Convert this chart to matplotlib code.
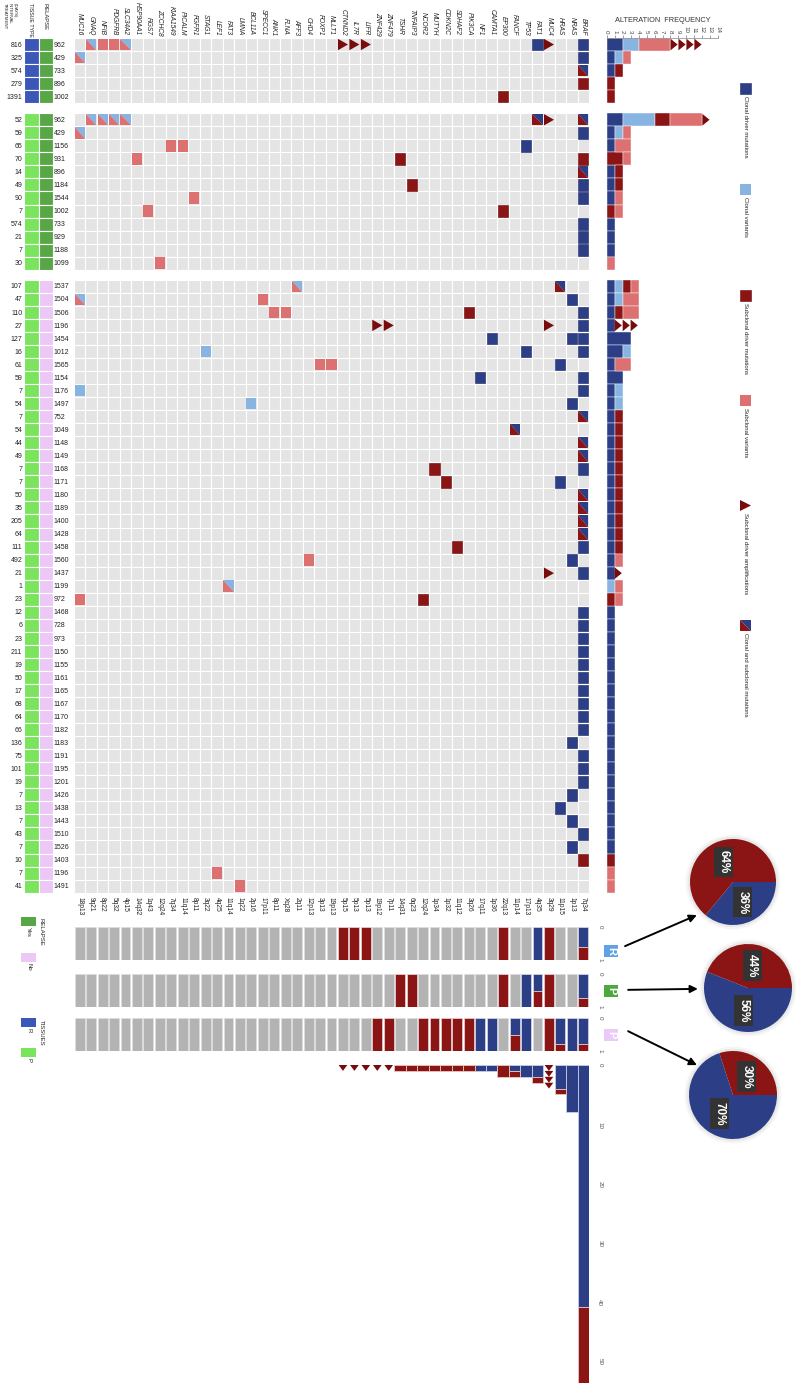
import numpy as np
import matplotlib
matplotlib.use('Agg')
import matplotlib.pyplot as plt
from matplotlib.patches import Rectangle, Polygon, Circle
from matplotlib.collections import PatchCollection

plt.rcParams['font.family'] = ['Liberation Sans', 'DejaVu Sans']

# ---------------- data ----------------
genes = ['MUC16', 'GNAQ', 'NFIB', 'PDGFRB', 'SLC34A2', 'HSP90AA1', 'RGS7', 'ZCCHC8',
         'KIAA1549', 'PICALM', 'FGFR1', 'STAG1', 'LEF1', 'FAT3', 'LMNA', 'BCL11A',
         'SPECC1', 'ANK1', 'FLNA', 'AFF3', 'CHD4', 'FOXP1', 'MLLT1', 'CTNND2', 'IL7R',
         'LIFR', 'ZNF429', 'ZNF479', 'TSHR', 'TNFAIP3', 'NCOR2', 'MUTYH', 'CDKN2C',
         'SDHAF2', 'PIK3CA', 'NF1', 'CAMTA1', 'EP300', 'FANCF', 'TP53', 'FAT1', 'MUC4',
         'HRAS', 'NRAS', 'BRAF']
loci = ['18p13', '9q21', '8p22', '5q32', '4p15', '14q32', '1q43', '12q24', '7q34', '11q14',
        '8p11', '3q22', '4q25', '11q14', '1q22', '2p16', '17p11', '8p11', 'Xq28', '2q11',
        '12p13', '3p13', '19p13', '5p15', '5p13', '5p13', '19p12', '7p11', '14q31', '6q23',
        '12q24', '1p34', '1p32', '11q12', '3q26', '17q11', '1p36', '22q13', '11p14', '17p13',
        '4q35', '3q29', '11p15', '1p13', '7q34']

interval_days = [816, 325, 574, 279, 1391,
                 52, 59, 65, 70, 14, 49, 90, 7, 574, 21, 7, 30,
                 107, 47, 110, 27, 127, 16, 61, 59, 7, 54, 7, 54, 44, 49, 7, 7, 50, 35, 205, 64,
                 111, 492, 21, 1, 23, 12, 6, 23, 211, 19, 50, 17, 68, 64, 66, 136, 75, 101, 19,
                 7, 13, 7, 43, 7, 10, 7, 41]
sample_ids = [962, 429, 733, 896, 1002,
              962, 429, 1156, 931, 896, 1184, 1544, 1002, 733, 929, 1188, 1099,
              1537, 1504, 1506, 1196, 1454, 1012, 1565, 1154, 1176, 1497, 752, 1049, 1148, 1149,
              1168, 1171, 1180, 1189, 1400, 1428, 1458, 1560, 1437, 1199, 972, 1468, 728, 973,
              1150, 1155, 1161, 1165, 1167, 1170, 1182, 1183, 1191, 1195, 1201, 1426, 1438,
              1443, 1510, 1526, 1403, 1196, 1491]
tissue_type = ['R'] * 5 + ['P'] * 12 + ['P'] * 47
relapse = ['Yes'] * 5 + ['Yes'] * 12 + ['No'] * 47

# (row, gene)
clonal_driver = [(0, 'FAT1'), (0, 'BRAF'), (1, 'BRAF'), (6, 'BRAF'), (7, 'TP53'),
                 (10, 'BRAF'), (11, 'BRAF'), (13, 'BRAF'), (14, 'BRAF'), (15, 'BRAF'),
                 (18, 'NRAS'), (19, 'BRAF'), (20, 'BRAF'), (21, 'CAMTA1'), (21, 'NRAS'),
                 (21, 'BRAF'), (22, 'TP53'), (22, 'BRAF'), (23, 'HRAS'), (24, 'NF1'),
                 (24, 'BRAF'), (25, 'BRAF'), (26, 'NRAS'), (31, 'BRAF'), (32, 'HRAS'),
                 (37, 'BRAF'), (38, 'NRAS'), (39, 'BRAF'), (42, 'BRAF'), (43, 'BRAF'),
                 (44, 'BRAF'), (45, 'BRAF'), (46, 'BRAF'), (47, 'BRAF'), (48, 'BRAF'),
                 (49, 'BRAF'), (50, 'BRAF'), (51, 'BRAF'), (52, 'NRAS'), (53, 'BRAF'),
                 (54, 'BRAF'), (55, 'BRAF'), (56, 'NRAS'), (57, 'HRAS'), (58, 'NRAS'),
                 (59, 'BRAF'), (60, 'NRAS')]
clonal_variant = [(22, 'STAG1'), (25, 'MUC16'), (26, 'BCL11A')]
subclonal_driver = [(3, 'BRAF'), (4, 'EP300'), (8, 'TSHR'), (8, 'BRAF'), (10, 'TNFAIP3'),
                    (12, 'EP300'), (19, 'PIK3CA'), (31, 'MUTYH'), (32, 'CDKN2C'),
                    (37, 'SDHAF2'), (41, 'NCOR2'), (61, 'BRAF')]
subclonal_variant = [(0, 'NFIB'), (0, 'PDGFRB'), (7, 'KIAA1549'), (7, 'PICALM'),
                     (8, 'HSP90AA1'), (11, 'FGFR1'), (12, 'RGS7'), (16, 'ZCCHC8'),
                     (18, 'SPECC1'), (19, 'ANK1'), (19, 'FLNA'), (23, 'FOXP1'),
                     (23, 'MLLT1'), (38, 'CHD4'), (41, 'MUC16'), (62, 'LEF1'), (63, 'LMNA')]
amplification = [(0, 'CTNND2'), (0, 'IL7R'), (0, 'LIFR'), (0, 'MUC4'), (5, 'MUC4'),
                 (20, 'ZNF429'), (20, 'ZNF479'), (20, 'MUC4'), (39, 'MUC4')]
mixed_driver = [(2, 'BRAF'), (5, 'FAT1'), (5, 'BRAF'), (9, 'BRAF'), (17, 'HRAS'),
                (27, 'BRAF'), (28, 'FANCF'), (29, 'BRAF'), (30, 'BRAF'), (33, 'BRAF'),
                (34, 'BRAF'), (35, 'BRAF'), (36, 'BRAF')]
mixed_variant = [(0, 'GNAQ'), (0, 'SLC34A2'), (1, 'MUC16'), (5, 'GNAQ'), (5, 'NFIB'),
                 (5, 'PDGFRB'), (5, 'SLC34A2'), (6, 'MUC16'), (17, 'AFF3'), (18, 'MUC16'),
                 (40, 'FAT3')]

pie_names = ['R', 'P', 'P']
pie_clonal = [36, 56, 70]
pie_subclonal = [64, 44, 30]

legend_labels = ['Clonal driver mutations', 'Clonal variants', 'Subclonal driver mutations',
                 'Subclonal variants', 'Subclonal driver amplifications',
                 'Clonal and subclonal mutations']

# ---------------- style ----------------
C_CD = '#2c3e86'
C_CV = '#88b4e2'
C_SD = '#8b1414'
C_SV = '#dd7070'
C_AMP = '#780c0c'
C_BG = '#e4e4e4'
C_GREY = '#b3b3b3'
TXT = '#222222'
tissue_colors = {'R': '#3b57b8', 'P': '#79e45c'}
relapse_colors = {'Yes': '#58a747', 'No': '#ebc8f6'}
box_colors = ['#62a2e4', '#4da83e', '#eccaf8']

W, H = 796, 1383
fig = plt.figure(figsize=(W / 100, H / 100), dpi=100)


def add_ax(x0, y0, x1, y1):
    return fig.add_axes([x0 / W, 1 - y1 / H, (x1 - x0) / W, (y1 - y0) / H])


def draw_cell(ax, x, y, s, kind):
    if kind == 'CD':
        ax.add_patch(Rectangle((x, y), s, s, fc=C_CD, ec='#1e2c68', lw=0.4))
    elif kind == 'CV':
        ax.add_patch(Rectangle((x, y), s, s, fc=C_CV, ec='none'))
    elif kind == 'SD':
        ax.add_patch(Rectangle((x, y), s, s, fc=C_SD, ec='#6a0c0c', lw=0.4))
    elif kind == 'SV':
        ax.add_patch(Rectangle((x, y), s, s, fc=C_SV, ec='none'))
    elif kind == 'AMP':
        ax.add_patch(Polygon([(x, y), (x, y + s), (x + s, y + s / 2)], fc=C_AMP, ec='none'))
    else:
        cl, sc = (C_CD, C_SD) if kind == 'MD' else (C_CV, C_SV)
        ax.add_patch(Polygon([(x, y), (x + s, y), (x + s, y + s)], fc=cl, ec='none'))
        ax.add_patch(Polygon([(x, y), (x, y + s), (x + s, y + s)], fc=sc, ec='none'))


kinds = {'CD': clonal_driver, 'CV': clonal_variant, 'SD': subclonal_driver,
         'SV': subclonal_variant, 'AMP': amplification, 'MD': mixed_driver,
         'MV': mixed_variant}

n_rows = len(interval_days)
n_cols = len(genes)
gcol = {g: i for i, g in enumerate(genes)}

group_keys = []
group_of_row = []
for t, r in zip(tissue_type, relapse):
    if (t, r) not in group_keys:
        group_keys.append((t, r))
    group_of_row.append(group_keys.index((t, r)))

GAP = 0.77
row_y = np.array([i + GAP * g for i, g in enumerate(group_of_row)])
y_span = n_rows + GAP * (len(group_keys) - 1)
ROW_PX = 13.04
GRID_TOP = 38
grid_bot = GRID_TOP + y_span * ROW_PX

# ---------------- main grid ----------------
ax = add_ax(74, GRID_TOP, 589, grid_bot)
ax.set_xlim(0, n_cols)
ax.set_ylim(y_span, 0)
bg = [Rectangle((c, y), 1, 1) for y in row_y for c in range(n_cols)]
ax.add_collection(PatchCollection(bg, facecolor=C_BG, edgecolor='white', linewidth=0.8))
for kind, lst in kinds.items():
    for r, g in lst:
        draw_cell(ax, gcol[g] + 0.06, row_y[r] + 0.06, 0.88, kind)
for s in ax.spines.values():
    s.set_visible(False)
ax.set_yticks([])
ax.xaxis.tick_top()
ax.set_xticks(np.arange(n_cols) + 0.5)
ax.set_xticklabels(genes, rotation=-90, fontsize=4.8, fontstyle='italic', color=TXT)
ax.tick_params(axis='x', length=0, pad=2)
sec = ax.secondary_xaxis('bottom')
sec.set_xticks(np.arange(n_cols) + 0.5)
sec.set_xticklabels(loci, rotation=-90, fontsize=4.8, color=TXT)
sec.tick_params(length=0, pad=3)
sec.spines['bottom'].set_visible(False)

# ---------------- left table ----------------
ax_t = add_ax(24, GRID_TOP, 53, grid_bot)
ax_t.set_xlim(0, 2)
ax_t.set_ylim(y_span, 0)
ax_t.axis('off')
for r in range(n_rows):
    ax_t.add_patch(Rectangle((0, row_y[r]), 1, 1, fc=tissue_colors[tissue_type[r]],
                             ec='white', lw=0.8))
    ax_t.add_patch(Rectangle((1, row_y[r]), 1, 1, fc=relapse_colors[relapse[r]],
                             ec='white', lw=0.8))
    ax_t.text(-0.12, row_y[r] + 0.55, str(interval_days[r]), ha='right', va='center',
              fontsize=5, color=TXT)
    ax_t.text(2.06, row_y[r] + 0.55, str(sample_ids[r]), ha='left', va='center',
              fontsize=5, color=TXT)

# ---------------- alteration frequency ----------------
cnt = {k: np.zeros(n_rows) for k in ['CD', 'CV', 'SD', 'SV', 'AMP']}
for kind, lst in kinds.items():
    for r, g in lst:
        if kind == 'MD':
            cnt['CD'][r] += 1
            cnt['SD'][r] += 1
        elif kind == 'MV':
            cnt['CV'][r] += 1
            cnt['SV'][r] += 1
        else:
            cnt[kind][r] += 1

ax_f = add_ax(606.7, GRID_TOP, 718.3, grid_bot)
ax_f.set_xlim(0, 14)
ax_f.set_ylim(y_span, 0)
left = np.zeros(n_rows)
for k, c in [('CD', C_CD), ('CV', C_CV), ('SD', C_SD), ('SV', C_SV)]:
    m = cnt[k] > 0
    ax_f.barh(row_y[m] + 0.5, cnt[k][m], left=left[m], height=1.0, color=c,
              edgecolor='white', linewidth=0.3)
    left += cnt[k]
for r in range(n_rows):
    for j in range(int(cnt['AMP'][r])):
        draw_cell(ax_f, left[r] + j, row_y[r] + 0.05, 0.9, 'AMP')
for s in ['left', 'right', 'bottom']:
    ax_f.spines[s].set_visible(False)
ax_f.spines['top'].set_color('#999999')
ax_f.spines['top'].set_linewidth(0.6)
ax_f.set_yticks([])
ax_f.xaxis.tick_top()
ax_f.set_xticks(range(15))
ax_f.tick_params(axis='x', direction='out', length=2.5, width=0.5, colors='#777777',
                 labelsize=4.5, labelcolor='#444444', pad=1, labelrotation=-90)
ax_f.text(0.5, 1 + 18 / (grid_bot - GRID_TOP), 'ALTERATION  FREQUENCY',
          transform=ax_f.transAxes, ha='center', va='center', fontsize=5.3, color='#333333')

# ---------------- per group driver proportions ----------------
col_cl = np.zeros((len(group_keys), n_cols))
col_sc = np.zeros((len(group_keys), n_cols))
hist_amp = np.zeros(n_cols, dtype=int)
for kind, lst in kinds.items():
    for r, g in lst:
        gi, c = group_of_row[r], gcol[g]
        if kind in ('CD', 'MD'):
            col_cl[gi, c] += 1
        if kind in ('SD', 'MD', 'AMP'):
            col_sc[gi, c] += 1
        if kind == 'AMP':
            hist_amp[c] += 1

panel_boxes = [(927, 960), (974, 1007), (1018, 1051)]
xs = np.arange(n_cols) + 0.5
panel_axes = []
for gi, (y0, y1) in enumerate(panel_boxes):
    axp = add_ax(74, y0, 589, y1)
    axp.set_xlim(0, n_cols)
    axp.set_ylim(1, 0)
    tot = col_cl[gi] + col_sc[gi]
    has = tot > 0
    frac = np.where(has, col_cl[gi] / np.maximum(tot, 1), 0)
    axp.bar(xs[~has], 1, width=0.86, color=C_GREY, edgecolor='#dddddd', linewidth=0.5)
    m = has & (frac > 0)
    axp.bar(xs[m], frac[m], width=0.86, color=C_CD, edgecolor='#d8dbe8', linewidth=0.5)
    m = has & (frac < 1)
    axp.bar(xs[m], 1 - frac[m], bottom=frac[m], width=0.86, color=C_SD,
            edgecolor='#e8d8d8', linewidth=0.5)
    for s in axp.spines.values():
        s.set_visible(False)
    axp.set_xticks([])
    axp.yaxis.tick_right()
    axp.set_yticks([0, 1])
    axp.tick_params(axis='y', length=0, labelsize=4.5, labelcolor='#555555', pad=6,
                    labelrotation=-90)
    axp.text(1.043, 0.27 if gi == 0 else 0.48, pie_names[gi], transform=axp.transAxes,
             rotation=-90, ha='center', va='center', fontsize=8, fontweight='bold',
             color='white',
             bbox=dict(boxstyle='square,pad=0.18', fc=box_colors[gi], ec='none'))
    panel_axes.append(axp)

# ---------------- histogram ----------------
ax_h = add_ax(74, 1065, 589, 1383)
ax_h.set_xlim(0, n_cols)
ax_h.set_ylim(53.9, 0)
blue = col_cl.sum(axis=0)
red = (col_sc.sum(axis=0) - hist_amp)
m = blue > 0
ax_h.bar(xs[m], blue[m], width=1.0, color=C_CD, edgecolor='#c9cee2', linewidth=0.6)
m = red > 0
ax_h.bar(xs[m], red[m], bottom=blue[m], width=1.0, color=C_SD, edgecolor='#e6c6c6',
         linewidth=0.6)
for c in range(n_cols):
    for k in range(hist_amp[c]):
        ax_h.add_patch(Polygon([(c + 0.12, k), (c + 0.88, k), (c + 0.5, k + 1)],
                               fc=C_AMP, ec='none'))
for s in ax_h.spines.values():
    s.set_visible(False)
ax_h.set_xticks([])
ax_h.yaxis.tick_right()
ax_h.set_yticks([0, 10, 20, 30, 40, 50])
ax_h.tick_params(axis='y', length=0, labelsize=4.5, labelcolor='#555555', pad=6,
                 labelrotation=-90)

# ---------------- pies ----------------
pie_centres = [(733, 882, 43), (748, 988, 44), (733, 1095, 44)]
arrow_from = [(1.07, 0.42), (1.076, 0.52), (1.076, 0.60)]
arrow_to = [(-0.84, -0.77), (-1.14, -0.02), (-0.82, 0.68)]
L = 1.15
for i, (cx, cy, rad) in enumerate(pie_centres):
    axq = add_ax(cx - L * rad, cy - L * rad, cx + L * rad, cy + L * rad)
    axq.set_xlim(-L, L)
    axq.set_ylim(-L, L)
    axq.set_aspect('equal')
    axq.axis('off')
    axq.add_patch(Circle((0, 0), 1.1, fc='black', alpha=0.04, ec='none'))
    axq.add_patch(Circle((0, 0), 1.05, fc='black', alpha=0.05, ec='none'))
    wedges, texts, autos = axq.pie([pie_clonal[i], pie_subclonal[i]], colors=[C_CD, C_SD],
                                   startangle=0, counterclock=False, radius=1,
                                   autopct=lambda p: f'{p:.0f}%', pctdistance=0.52,
                                   wedgeprops=dict(linewidth=0))
    for t in autos:
        t.set_rotation(-90)
        t.set_color('white')
        t.set_fontsize(8.5)
        t.set_fontweight('bold')
        t.set_bbox(dict(boxstyle='square,pad=0.3', fc='#333333', ec='none'))
    axq.set_xlim(-L, L)
    axq.set_ylim(-L, L)
    panel_axes[i].annotate('', xy=arrow_to[i], xycoords=axq.transData,
                           xytext=arrow_from[i], textcoords='axes fraction',
                           arrowprops=dict(arrowstyle='-|>', color='black', lw=1.4,
                                           mutation_scale=11, shrinkA=0, shrinkB=0),
                           annotation_clip=False)

# ---------------- legends & headers (pixel overlay) ----------------
ov = fig.add_axes([0, 0, 1, 1])
ov.set_xlim(0, W)
ov.set_ylim(H, 0)
ov.axis('off')
legend_kinds = ['CD', 'CV', 'SD', 'SV', 'AMP', 'MD']
legend_tops = [83, 184, 290, 395, 500, 620]
for lab, kd, top in zip(legend_labels, legend_kinds, legend_tops):
    draw_cell(ov, 740, top, 11, kd)
    ov.text(745.5, top + 13, lab, rotation=-90, ha='center', va='top', fontsize=4.3,
            color=TXT)

# relapse / tissue legend
ov.add_patch(Rectangle((21, 917), 15, 9, fc=relapse_colors['Yes'], ec='none'))
ov.add_patch(Rectangle((21, 953), 15, 9, fc=relapse_colors['No'], ec='none'))
ov.add_patch(Rectangle((21, 1018), 15, 9, fc=tissue_colors['R'], ec='none'))
ov.add_patch(Rectangle((21, 1048), 15, 9, fc=tissue_colors['P'], ec='none'))
ov.text(41, 918, 'RELAPSE', rotation=-90, ha='center', va='top', fontsize=4.3, color=TXT)
ov.text(28.5, 927, 'Yes', rotation=-90, ha='center', va='top', fontsize=4.3, color=TXT)
ov.text(28.5, 963, 'No', rotation=-90, ha='center', va='top', fontsize=4.3, color=TXT)
ov.text(41, 1020, 'TISSUES', rotation=-90, ha='center', va='top', fontsize=4.3, color=TXT)
ov.text(28.5, 1028, 'R', rotation=-90, ha='center', va='top', fontsize=4.3, color=TXT)
ov.text(28.5, 1058, 'P', rotation=-90, ha='center', va='top', fontsize=4.3, color=TXT)

# table headers
ov.text(5, 3, 'TREATMENT', rotation=-90, ha='center', va='top', fontsize=3.2, color=TXT)
ov.text(10, 3, 'INTERVAL', rotation=-90, ha='center', va='top', fontsize=3.2, color=TXT)
ov.text(14.5, 3, '(DAYS)', rotation=-90, ha='center', va='top', fontsize=3.2, color=TXT)
ov.text(30.5, 3, 'TISSUE TYPE', rotation=-90, ha='center', va='top', fontsize=3.8,
        color=TXT)
ov.text(44.5, 3, 'RELAPSE', rotation=-90, ha='center', va='top', fontsize=4.2, color=TXT)

fig.savefig('out.png', dpi=100, facecolor='white')
